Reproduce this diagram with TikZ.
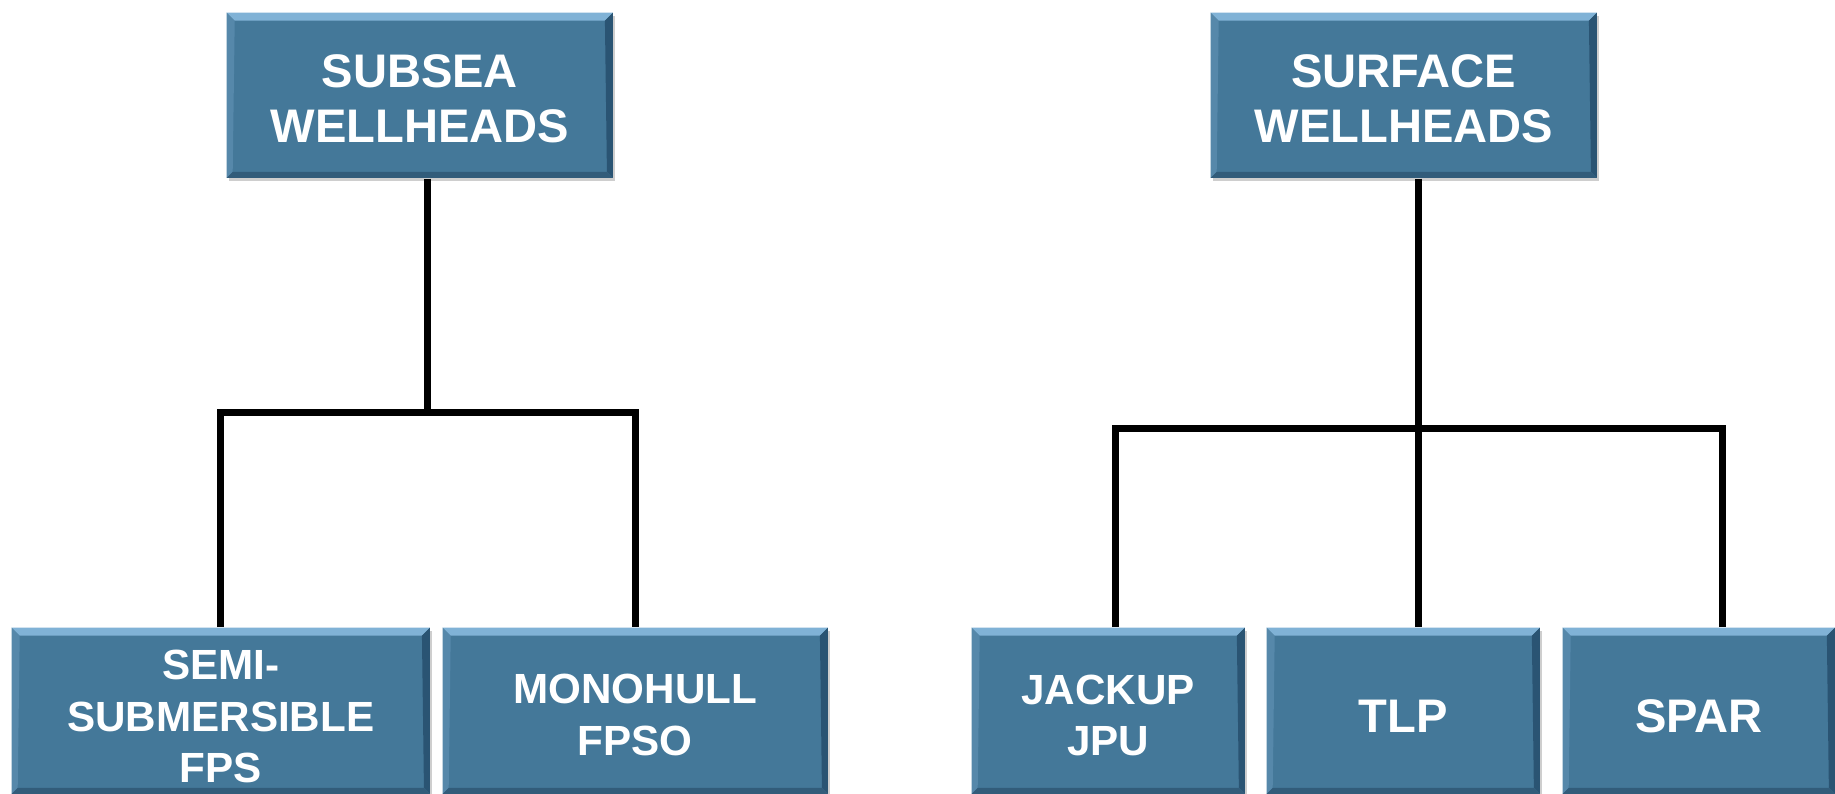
\documentclass[tikz,border=0pt]{standalone}
\usepackage{fontspec}
\setmainfont{Liberation Sans}
\usetikzlibrary{shadows,calc}
\definecolor{boxblue}{RGB}{68,120,153}
\definecolor{bevtop}{RGB}{128,178,214}
\definecolor{bevleft}{RGB}{86,136,170}
\definecolor{bevright}{RGB}{42,84,115}
\definecolor{bevbot}{RGB}{50,92,122}
\newcommand{\lift}[1]{\rule{0pt}{#1}}
\tikzset{
  wbox/.style={fill=boxblue, text=white, align=center, inner sep=0pt, anchor=north west,
    drop shadow={shadow xshift=0.025cm, shadow yshift=-0.035cm, opacity=0.35, fill=black!55},
    path picture={
      \fill[bevtop] (path picture bounding box.north west) -- (path picture bounding box.north east)
        -- ([shift={(-0.08cm,-0.08cm)}]path picture bounding box.north east)
        -- ([shift={(0.08cm,-0.08cm)}]path picture bounding box.north west) -- cycle;
      \fill[bevleft] (path picture bounding box.north west) -- (path picture bounding box.south west)
        -- ([shift={(0.06cm,0.06cm)}]path picture bounding box.south west)
        -- ([shift={(0.08cm,-0.08cm)}]path picture bounding box.north west) -- cycle;
      \fill[bevright] (path picture bounding box.north east) -- (path picture bounding box.south east)
        -- ([shift={(-0.06cm,0.06cm)}]path picture bounding box.south east)
        -- ([shift={(-0.08cm,-0.08cm)}]path picture bounding box.north east) -- cycle;
      \fill[bevbot] (path picture bounding box.south west) -- (path picture bounding box.south east)
        -- ([shift={(-0.06cm,0.06cm)}]path picture bounding box.south east)
        -- ([shift={(0.06cm,0.06cm)}]path picture bounding box.south west) -- cycle;
    }},
  bigtxt/.style={font=\fontsize{13.4}{15.4}\selectfont\bfseries},
  smalltxt/.style={font=\fontsize{12}{14.6}\selectfont\bfseries},
  topbox/.style={wbox, bigtxt, minimum width=3.86cm, minimum height=1.65cm},
  lowbox/.style={wbox, minimum height=1.66cm},
  conn/.style={draw=black, line width=0.07cm, line join=miter}
}
\begin{document}
\begin{tikzpicture}[x=0.01cm, y=-0.01cm]
\useasboundingbox (0,0) rectangle (1835,793);
\fill[white] (0,0) rectangle (1835,793);

% boxes
\node[topbox] (sub) at (226,12) {\lift{0.40cm}SUBSEA\\WELLHEADS};
\node[topbox] (sur) at (1210,12) {\lift{0.40cm}SURFACE\\WELLHEADS};
\node[lowbox, smalltxt, minimum width=4.18cm] (semi) at (11,627) {\lift{0.41cm}SEMI-\\SUBMERSIBLE\\FPS};
\node[lowbox, smalltxt, minimum width=3.85cm] (mono) at (442,627) {\lift{0.38cm}MONOHULL\\FPSO};
\node[lowbox, smalltxt, minimum width=2.73cm] (jack) at (971,627) {\lift{0.39cm}JACKUP\\JPU};
\node[lowbox, bigtxt, minimum width=2.73cm] (tlp) at (1266,627) {\lift{0.44cm}TLP};
\node[lowbox, bigtxt, minimum width=2.72cm] (spar) at (1562,627) {\lift{0.44cm}SPAR};

% junction coordinates
\coordinate (jl) at (427,412);
\coordinate (jr) at (1418,428);
\coordinate (ra) at (1115,428);
\coordinate (rb) at (1722,428);

% left tree
\draw[conn] (jl |- sub.south) -- (jl);
\draw[conn] (semi.north) -- (semi.north |- jl) -- (mono.north |- jl) -- (mono.north);

% right tree
\draw[conn] (jr |- sur.south) -- (jr |- tlp.north);
\draw[conn] (ra |- jack.north) -- (ra) -- (rb) -- (rb |- spar.north);
\end{tikzpicture}
\end{document}
